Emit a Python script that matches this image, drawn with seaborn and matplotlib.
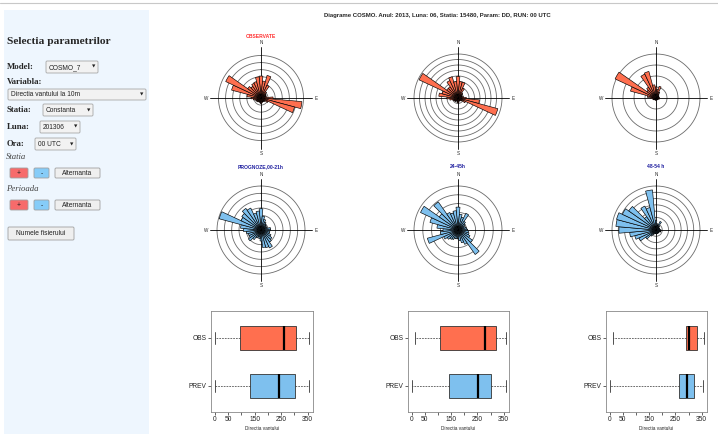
import numpy as np
import pandas as pd
import matplotlib
matplotlib.use("Agg")
import matplotlib.pyplot as plt
from matplotlib.patches import Rectangle, FancyBboxPatch
import seaborn as sns

sns.set_style("white")
plt.rcParams['font.family'] = ['Liberation Sans', 'DejaVu Sans']

W, H = 718, 434

# ---------------- data ----------------
title = "Diagrame COSMO. Anul: 2013, Luna: 06, Statia: 15480, Param: DD, RUN: 00 UTC"
directions = list(range(0, 360, 10))

rose_titles = ["OBSERVATE", "", "", "PROGNOZE,00-21h", "24-45h", "48-54 h"]
rose_rings = [6, 8, 4, 6, 5, 7]

# bar lengths (in ring units) for each 10-degree sector, 0..350
rose1 = [3.1, 2.4, 3.3, 2.0, 1.1, 0.85, 0.8, 0.7, 0.8, 1.7, 5.8, 4.9, 1.1, 0.7, 0.6, 0.6, 0.6, 0.7,
         0.8, 0.7, 0.6, 0.6, 0.7, 0.7, 0.8, 0.8, 1.1, 1.4, 2.0, 4.3, 5.5, 2.3, 2.0, 2.3, 2.4, 3.0]
rose2 = [3.9, 3.0, 3.0, 2.0, 1.2, 1.0, 0.8, 0.8, 1.0, 1.5, 3.9, 7.5, 1.5, 0.8, 0.6, 0.6, 0.6, 0.8,
         0.9, 0.8, 0.6, 0.6, 0.8, 0.8, 0.9, 1.0, 1.5, 2.0, 3.5, 3.0, 7.8, 2.5, 2.5, 3.5, 4.0, 3.0]
rose3 = [1.0, 0.8, 1.1, 0.6, 0.4, 0.3, 0.3, 0.2, 0.3, 0.3, 0.3, 0.3, 0.2, 0.2, 0.2, 0.2, 0.2, 0.2,
         0.2, 0.2, 0.2, 0.2, 0.2, 0.2, 0.3, 0.3, 0.3, 0.5, 0.8, 2.4, 4.1, 1.0, 1.2, 2.4, 2.5, 1.2]
rose4 = [2.9, 1.9, 1.5, 1.2, 1.0, 0.9, 0.8, 0.9, 1.3, 1.3, 1.2, 1.2, 1.5, 1.8, 2.0, 2.7, 2.5, 2.4,
         1.5, 1.2, 1.0, 1.2, 1.6, 2.1, 1.8, 1.8, 2.0, 2.4, 2.8, 5.9, 3.0, 3.2, 3.6, 3.3, 2.4, 2.6]
rose5 = [2.6, 1.8, 1.5, 2.1, 1.2, 1.0, 0.8, 0.9, 1.0, 1.1, 1.2, 1.3, 1.5, 2.0, 3.4, 1.8, 1.5, 1.2,
         1.0, 1.0, 1.0, 1.2, 1.3, 1.5, 1.8, 3.6, 2.0, 1.7, 2.4, 3.3, 4.7, 2.6, 3.9, 2.2, 2.0, 2.2]
rose6 = [1.5, 1.0, 0.8, 1.5, 0.8, 0.6, 0.6, 0.6, 0.6, 0.8, 0.8, 0.8, 0.6, 0.6, 0.6, 0.6, 0.6, 0.6,
         0.6, 0.6, 0.6, 0.8, 1.2, 2.0, 3.0, 3.5, 4.2, 5.9, 6.4, 6.5, 5.9, 5.3, 2.6, 4.2, 3.7, 6.4]
roses = [rose1, rose2, rose3, rose4, rose5, rose6]

box_groups = ["OBS", "PREV"]
# five-number summaries: min, Q1, median, Q3, max
obs_stats = [[0, 94, 259, 305, 355], [11, 106, 278, 319, 357], [11, 289, 300, 331, 357]]
prev_stats = [[0, 132, 241, 301, 355], [0, 141, 251, 300, 357], [0, 263, 293, 320, 353]]
x_ticks = [0, 50, 100, 150, 200, 250, 300, 350]
x_tick_labels = ["0", "50", "", "150", "", "250", "", "350"]

obs_color = "#FF6F4F"
prev_color = "#7EC0EE"

# ---------------- figure ----------------
fig = plt.figure(figsize=(W / 100, H / 100), dpi=100)
fig.patch.set_facecolor("white")

def rect(x0, y0, x1, y1):
    return [x0 / W, 1 - y1 / H, (x1 - x0) / W, (y1 - y0) / H]

bg = fig.add_axes([0, 0, 1, 1], zorder=0)
bg.set_xlim(0, W)
bg.set_ylim(H, 0)
bg.axis("off")

# top rule line
bg.plot([0, W], [3, 3], color="#c8c8c8", lw=0.8)
# sidebar
bg.add_patch(Rectangle((4, 10), 145, 424, facecolor="#EEF6FE", edgecolor="none"))

serif = ['Liberation Serif', 'DejaVu Serif']
bg.text(7, 42, "Selectia parametrilor", fontsize=8.2, fontweight="bold", family=serif, va="center")

def dropdown(x0, y0, x1, y1, label):
    bg.add_patch(FancyBboxPatch((x0, y0), x1 - x0, y1 - y0, boxstyle="round,pad=0,rounding_size=1.2",
                                facecolor="#F2F2F2", edgecolor="#A8A8A8", lw=0.6))
    bg.text(x0 + 3, (y0 + y1) / 2 + 0.3, label, fontsize=4.8, va="center", color="#222")
    bg.text(x1 - 4, (y0 + y1) / 2, "\u25BC", fontsize=3.2, va="center", ha="center",
            family=['DejaVu Sans'], color="#222")

def button(x0, y0, x1, y1, label, fc):
    bg.add_patch(FancyBboxPatch((x0, y0), x1 - x0, y1 - y0, boxstyle="round,pad=0,rounding_size=1.2",
                                facecolor=fc, edgecolor="#A0A0A0", lw=0.6))
    bg.text((x0 + x1) / 2, (y0 + y1) / 2 + 0.3, label, fontsize=4.8, va="center", ha="center", color="#222")

lbl_kw = dict(fontsize=6.3, fontweight="bold", family=serif, va="center")
bg.text(7, 67, "Model:", **lbl_kw)
dropdown(46, 61, 98, 73, "COSMO_7")
bg.text(7, 82, "Variabla:", **lbl_kw)
dropdown(8, 89, 146, 100, "Directia vantului la 10m")
bg.text(7, 110, "Statia:", **lbl_kw)
dropdown(43, 104, 93, 116, "Constanta")
bg.text(7, 127, "Luna:", **lbl_kw)
dropdown(40, 121, 80, 133, "201306")
bg.text(7, 144, "Ora:", **lbl_kw)
dropdown(35, 138, 76, 150, "00 UTC")
bg.text(6, 157, "Statia", fontsize=6.3, style="italic", family=serif, va="center", color="#444")
button(10, 168, 28, 178, "+", "#F76B6B")
button(34, 168, 49, 178, "-", "#86CCF8")
button(55, 168, 100, 178, "Alternanta", "#EFEFEF")
bg.text(6, 189, "Perioada", fontsize=6.3, style="italic", family=serif, va="center", color="#444")
button(10, 200, 28, 210, "+", "#F76B6B")
button(34, 200, 49, 210, "-", "#86CCF8")
button(55, 200, 100, 210, "Alternanta", "#EFEFEF")
button(8, 227, 74, 240, "Numele fisierului", "#EFEFEF")

# main title
bg.text(437, 16, title, fontsize=4.35, fontweight="bold", ha="center", va="center")

# ---------------- wind roses ----------------
centers = [(261, 98), (458, 98), (656, 98), (261, 230), (458, 230), (656, 230)]
title_y = [36, 36, 36, 167, 167, 167]
title_colors = ["#FF3030", "#FF3030", "#FF3030", "#2020A0", "#2020A0", "#2020A0"]
rose_outer = [42.5, 44, 44, 44, 44, 44]
R_AX = 52.0
theta_full = np.linspace(0, 2 * np.pi, 361)

for i, (vals, (cx, cy)) in enumerate(zip(roses, centers)):
    n = rose_rings[i]
    unit = rose_outer[i] / n
    rmax = R_AX / unit
    ax = fig.add_axes(rect(cx - R_AX, cy - R_AX, cx + R_AX, cy + R_AX), projection="polar", zorder=2)
    ax.set_facecolor("none")
    ax.set_theta_zero_location("N")
    ax.set_theta_direction(-1)
    ax.set_ylim(0, rmax)
    ax.grid(False)
    ax.set_xticks([])
    ax.set_yticks([])
    ax.spines["polar"].set_visible(False)
    for k in range(1, n + 1):
        ax.plot(theta_full, np.full_like(theta_full, k), color="#6a6a6a", lw=0.6, zorder=1)
    for a in (0, 90, 180, 270):
        ax.plot([np.deg2rad(a)] * 2, [0, rmax * 0.985], color="black", lw=0.6, zorder=1)
    color = obs_color if i < 3 else prev_color
    ax.bar(np.deg2rad(directions), vals, width=np.deg2rad(10), bottom=0, color=color,
           edgecolor="black", linewidth=0.45, zorder=3)
    for lab, a in (("N", 0), ("E", 90), ("S", 180), ("W", 270)):
        ax.text(np.deg2rad(a), rmax * 1.06, lab, fontsize=3.3, ha="center", va="center", clip_on=False)
    if rose_titles[i]:
        bg.text(cx, title_y[i], rose_titles[i], fontsize=3.6, fontweight="bold", ha="center",
                va="center", color=title_colors[i])

# ---------------- box plots ----------------
box_x = [(211, 313), (408, 509), (606, 707)]
for j in range(3):
    x0, x1 = box_x[j]
    ax = fig.add_axes(rect(x0, 311, x1, 412), zorder=2)
    df = pd.DataFrame({
        "grp": ["OBS"] * 5 + ["PREV"] * 5,
        "val": obs_stats[j] + prev_stats[j],
    })
    sns.boxplot(data=df, x="val", y="grp", hue="grp", order=box_groups, hue_order=box_groups,
                palette={"OBS": obs_color, "PREV": prev_color}, saturation=1, orient="h",
                whis=(0, 100), width=0.5, linewidth=0.6, linecolor="#333333", legend=False, ax=ax,
                medianprops=dict(color="black", linewidth=1.6),
                whiskerprops=dict(linestyle=(0, (2.5, 1.5)), linewidth=0.5),
                capprops=dict(linewidth=0.6))
    ax.set_xlim(-14, 370)
    ax.set_ylim(1.55, -0.56)
    ax.set_xticks(x_ticks)
    ax.set_xticklabels(x_tick_labels)
    ax.tick_params(axis="both", length=2, width=0.5, pad=1, labelsize=4.8, colors="#222",
                   bottom=True, left=True)
    ax.set_xlabel("Directia vantului", fontsize=3.4, labelpad=2)
    ax.set_ylabel("")
    for s in ax.spines.values():
        s.set_color("#888888")
        s.set_linewidth(0.6)

fig.savefig("out.png", dpi=100, facecolor="white")
